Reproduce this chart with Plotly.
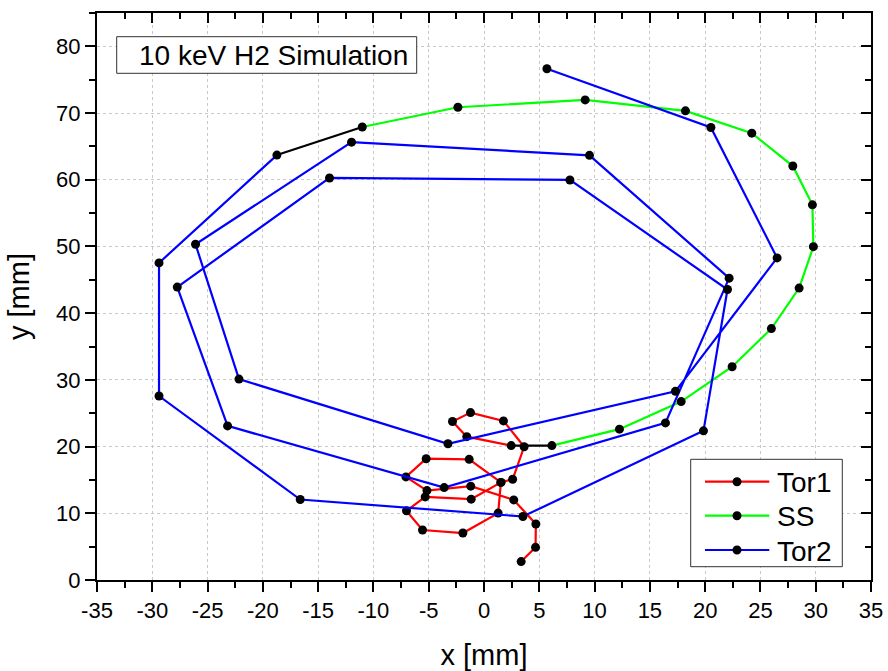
import plotly.graph_objects as go

# ---- data ----
tor1_x = [3.36, 4.66, 4.69, 2.69, -1.20, -5.16, -7.06, -5.23, -1.34, 1.53, -1.16, -5.32,
          -7.01, -5.56, -1.91, 1.28, 1.53, 2.59, 3.63, 1.76, -1.22, -2.85, -1.56, 2.46]
tor1_y = [2.76, 4.90, 8.39, 12.01, 14.07, 13.40, 15.45, 18.18, 18.09, 14.63, 12.12, 12.46,
          10.37, 7.49, 7.04, 10.03, 14.63, 15.10, 19.97, 23.85, 25.10, 23.76, 21.49, 20.15]

ss_x = [6.14, 12.25, 17.83, 22.44, 25.99, 28.50, 29.79, 29.70, 27.93, 24.22, 18.22, 9.15, -2.36, -11.01]
ss_y = [20.15, 22.61, 26.75, 31.97, 37.69, 43.76, 49.97, 56.24, 62.06, 66.99, 70.33, 71.97, 70.87, 67.91]

tor2_x = [-18.73, -29.39, -29.39, -16.62, 3.52, 19.85, 22.02, 7.77, -13.97, -27.74, -23.19, -3.60,
          16.41, 22.17, 9.54, -11.98, -26.09, -22.16, -3.26, 17.31, 26.51, 20.52, 5.69]
tor2_y = [63.70, 47.54, 27.58, 12.06, 9.52, 22.36, 43.55, 59.97, 60.27, 43.91, 23.10, 13.85,
          23.55, 45.25, 63.66, 65.64, 50.33, 30.12, 20.42, 28.28, 48.28, 67.84, 76.64]

series_names = ["Tor1", "SS", "Tor2"]
series_colors = ["#FF0000", "#00FF00", "#0000FF"]

x_ticks = list(range(-35, 36, 5))
y_ticks = list(range(0, 81, 10))

FONT = "Liberation Sans, Arial, sans-serif"
LW = 2.2
MS = 9

# plot-area geometry in pixels (for placing the label box and legend box)
L, R, T, B = 97, 871, 13, 580
PW, PH = R - L, B - T


def px(x):
    return (x - L) / PW


def py(y):
    return (B - y) / PH


fig = go.Figure()

# black connectors between consecutive segments
fig.add_trace(go.Scatter(x=[tor1_x[-1], ss_x[0]], y=[tor1_y[-1], ss_y[0]], mode="lines",
                         line=dict(color="black", width=LW), showlegend=False, hoverinfo="skip"))
fig.add_trace(go.Scatter(x=[ss_x[-1], tor2_x[0]], y=[ss_y[-1], tor2_y[0]], mode="lines",
                         line=dict(color="black", width=LW), showlegend=False, hoverinfo="skip"))

for name, color, xs, ys in zip(series_names, series_colors,
                               [tor1_x, ss_x, tor2_x], [tor1_y, ss_y, tor2_y]):
    fig.add_trace(go.Scatter(x=xs, y=ys, mode="lines+markers", name=name,
                             line=dict(color=color, width=LW),
                             marker=dict(color="black", size=MS, line=dict(width=0)),
                             showlegend=False))

axis_common = dict(showline=True, linecolor="black", linewidth=2, zeroline=False,
                   tickfont=dict(family=FONT, size=22, color="black"),
                   tickcolor="black", tickwidth=2, ticklen=10, automargin=False,
                   showgrid=True, gridcolor="#c8c8c8", gridwidth=1, griddash="3px,3px")

fig.update_layout(
    width=888, height=671,
    margin=dict(l=L, r=888 - R, t=T, b=671 - B),
    paper_bgcolor="white", plot_bgcolor="white",
    font=dict(family=FONT, color="black"),
    xaxis=dict(range=[-35, 35], tickvals=x_ticks, ticktext=[str(v) for v in x_ticks],
               ticks="outside",
               minor=dict(dtick=2.5, ticks="outside", ticklen=6, tickwidth=2, tickcolor="black", showgrid=False),
               title=dict(text="x [mm]", font=dict(family=FONT, size=29), standoff=22),
               **axis_common),
    yaxis=dict(range=[0, 85], tickvals=y_ticks, ticktext=[str(v) for v in y_ticks],
               ticks="outside",
               minor=dict(dtick=5, ticks="outside", ticklen=6, tickwidth=2, tickcolor="black", showgrid=False),
               title=dict(text="y [mm]", font=dict(family=FONT, size=29), standoff=18),
               **axis_common),
    xaxis2=dict(range=[-35, 35], overlaying="x", side="top", anchor="y", matches="x",
                showline=True, linecolor="black", linewidth=2, showgrid=False, zeroline=False,
                tickvals=x_ticks, showticklabels=False, ticks="inside", ticklen=10, tickwidth=2,
                tickcolor="black", automargin=False,
                minor=dict(dtick=2.5, ticks="inside", ticklen=6, tickwidth=2, tickcolor="black")),
    yaxis2=dict(range=[0, 85], overlaying="y", side="right", anchor="x", matches="y",
                showline=True, linecolor="black", linewidth=2, showgrid=False, zeroline=False,
                tickvals=y_ticks, showticklabels=False, ticks="inside", ticklen=10, tickwidth=2,
                tickcolor="black", automargin=False,
                minor=dict(dtick=5, ticks="inside", ticklen=6, tickwidth=2, tickcolor="black")),
    showlegend=False,
)

# invisible trace to ensure the mirrored axes are drawn
fig.add_trace(go.Scatter(x=[None], y=[None], xaxis="x2", yaxis="y2", showlegend=False,
                         hoverinfo="skip"))

# label box
fig.add_shape(type="rect", xref="paper", yref="paper",
              x0=px(116.7), x1=px(416.7), y0=py(73.3), y1=py(36.7),
              line=dict(color="#333333", width=1), fillcolor="white", layer="above")
fig.add_annotation(text="10 keV H2 Simulation", xref="paper", yref="paper",
                   x=px(136.5), y=py(55.5), xanchor="left", yanchor="middle",
                   showarrow=False, font=dict(family=FONT, size=28, color="black"))

# legend box (drawn to match the original's layout)
fig.add_shape(type="rect", xref="paper", yref="paper",
              x0=px(690.7), x1=px(842.3), y0=py(566.7), y1=py(459.3),
              line=dict(color="#333333", width=1), fillcolor="white", layer="above")
row_y = [481.7, 515.7, 550.0]
for name, color, ry in zip(series_names, series_colors, row_y):
    fig.add_shape(type="line", xref="paper", yref="paper",
                  x0=px(705), x1=px(769.3), y0=py(ry), y1=py(ry),
                  line=dict(color=color, width=LW), layer="above")
    r = MS / 2
    fig.add_shape(type="circle", xref="paper", yref="paper",
                  x0=px(737 - r), x1=px(737 + r), y0=py(ry + r), y1=py(ry - r),
                  line=dict(width=0), fillcolor="black", layer="above")
    fig.add_annotation(text=name, xref="paper", yref="paper",
                       x=px(775), y=py(ry + 1), xanchor="left", yanchor="middle",
                       showarrow=False, font=dict(family=FONT, size=28, color="black"))

fig.write_html("out.html")
